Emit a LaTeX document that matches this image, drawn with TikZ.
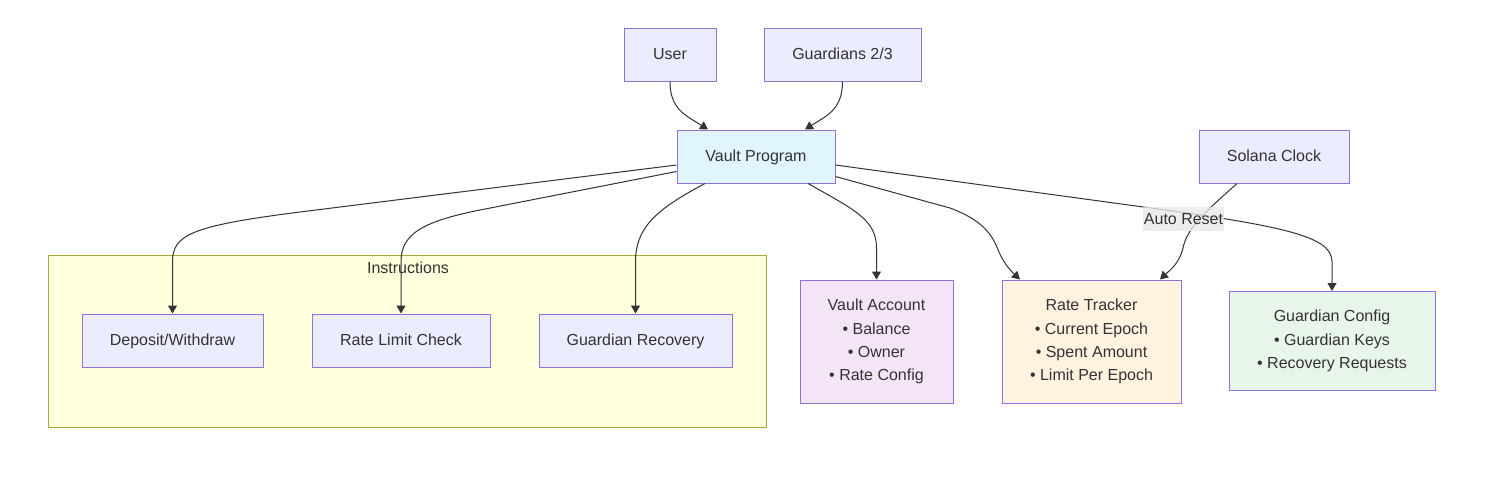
\documentclass[tikz,border=0pt]{standalone}
\usepackage{fontspec}
\setmainfont{Liberation Sans}
\usetikzlibrary{arrows.meta}

\newlength{\du}
\setlength{\du}{0.75pt}

\definecolor{dialinecolor}{HTML}{333333}
\definecolor{boxfill}{HTML}{ECECFF}
\definecolor{boxline}{HTML}{9370DB}
\definecolor{progfill}{HTML}{E1F5FE}
\definecolor{acctfill}{HTML}{F3E5F5}
\definecolor{ratefill}{HTML}{FFF3E0}
\definecolor{guardfill}{HTML}{E8F5E9}
\definecolor{clusterfill}{HTML}{FFFFDE}
\definecolor{clusterline}{HTML}{AAAA33}
\definecolor{labelfill}{HTML}{E8E8E8}

\tikzset{
	box/.style={draw=boxline, fill=boxfill, line width=1\du, text=dialinecolor,
		inner sep=0pt, align=center, font=\fontsize{12}{17.4}\selectfont},
	cluster/.style={draw=clusterline, fill=clusterfill, line width=1\du, inner sep=0pt},
	link/.style={draw=dialinecolor, line width=1\du, -{Triangle[length=6pt,width=6.75pt]}},
	edgelabel/.style={fill=labelfill, fill opacity=0.8, text opacity=1, text=dialinecolor,
		inner xsep=0.5pt, inner ysep=0pt, minimum height=18pt, font=\fontsize{12}{14}\selectfont},
}

\begin{document}
\begin{tikzpicture}[x=0.75pt,y=-0.75pt]
	\useasboundingbox (0,0) rectangle (1492,476);
	% subgraph
	\node[cluster, minimum width=718\du, minimum height=172\du] (instr) at (407,341) {};
	\node[text=dialinecolor, font=\fontsize{12}{14}\selectfont] (instrlabel) at (408,267.5) {Instructions};
	% sources
	\node[box, minimum width=92\du, minimum height=53\du] (user) at (670,54.5) {\strut User};
	\node[box, minimum width=157\du, minimum height=53\du] (guardians) at (842.5,54.5) {\strut Guardians 2/3};
	\node[box, fill=progfill, minimum width=158\du, minimum height=53\du] (vp) at (756,156.5) {\strut Vault Program};
	\node[box, minimum width=150\du, minimum height=53\du] (clock) at (1274,156.5) {\strut Solana Clock};
	% instructions
	\node[box, minimum width=181\du, minimum height=53\du] (dep) at (172.5,340.5) {\strut Deposit/Withdraw};
	\node[box, minimum width=178\du, minimum height=53\du] (rlc) at (401,340.5) {\strut Rate Limit Check};
	\node[box, minimum width=193\du, minimum height=53\du] (gr) at (635.5,340.5) {\strut Guardian Recovery};
	% accounts
	\node[box, fill=acctfill, minimum width=153\du, minimum height=123\du] (va) at (876.5,341.5)
		{Vault Account\\• Balance\\• Owner\\• Rate Config};
	\node[box, fill=ratefill, minimum width=179\du, minimum height=123\du] (rt) at (1091.5,341.5)
		{Rate Tracker\\• Current Epoch\\• Spent Amount\\• Limit Per Epoch};
	\node[box, fill=guardfill, minimum width=206\du, minimum height=99\du] (gc) at (1332,341)
		{Guardian Config\\• Guardian Keys\\• Recovery Requests};
	% edges
	\draw[link] (user.south) .. controls +(0,28) and +(-22,-14) .. ([xshift=-48\du]vp.north);
	\draw[link] (guardians.south) .. controls +(0,28) and +(22,-14) .. ([xshift=49\du]vp.north);
	\draw[link] ([yshift=-8.5\du]vp.west) -- (300,212) .. controls (190,226) and (172.5,235) .. (172.5,262) -- (dep.north);
	\draw[link] ([yshift=-15\du]vp.west) -- (480,210) .. controls (420,222) and (401,235) .. (401,262) -- (rlc.north);
	\draw[link] ([xshift=-51\du]vp.south) .. controls (655,210) and (635.5,228) .. (635.5,262) -- (gr.north);
	\draw[link] ([xshift=52\du]vp.south) .. controls (855,210) and (876.5,220) .. (876.5,248) -- (va.north);
	\draw[link] ([yshift=-20\du]vp.east) -- (950,208) .. controls (988,222) and (994,240) .. (999,252)
		.. controls (1004,264) and (1012,272) .. ([xshift=-71.5\du]rt.north);
	\draw[link] ([yshift=-8.5\du]vp.east) -- (1180,212) .. controls (1300,229) and (1332,240) .. (1332,262) -- (gc.north);
	\draw[link] ([xshift=-37\du]clock.south) .. controls (1205,212) and (1187,228) ..
		node[edgelabel, pos=0.5, xshift=-16\du] (autoreset) {Auto Reset} (1183,248)
		.. controls (1179,264) and (1170,270) .. ([xshift=68.5\du]rt.north);
\end{tikzpicture}
\end{document}
